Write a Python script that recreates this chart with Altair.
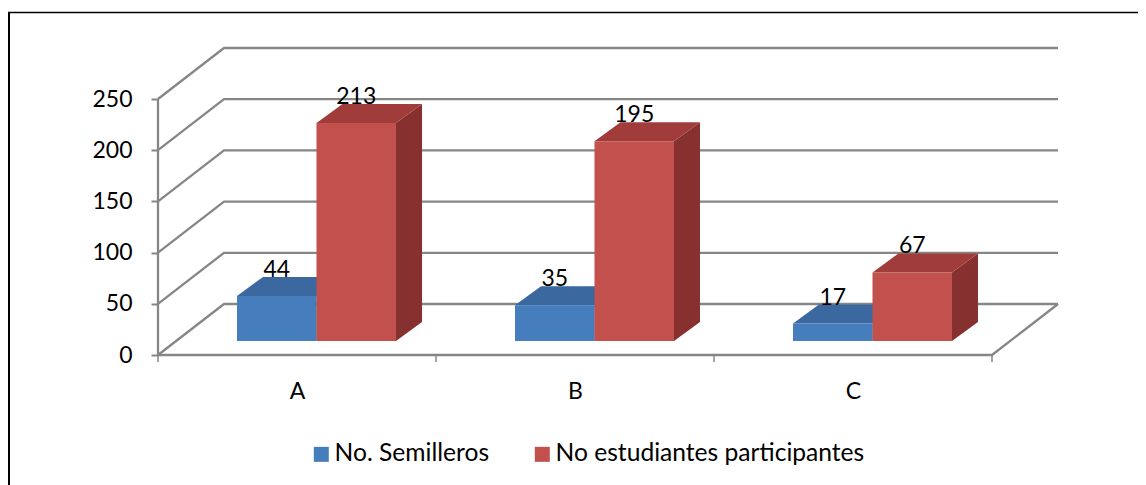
import altair as alt
import pandas as pd

categories = ["A", "B", "C"]
semilleros = [44, 35, 17]
estudiantes = [213, 195, 67]
y_ticks = [0, 50, 100, 150, 200, 250]
series_names = ["No. Semilleros", "No estudiantes participantes"]

GRID = "#868686"
FONT = "Lato"
FS = 23
W, H = 1130, 473
PX_X, PX_Y = 278.0, 1.024          # pixels per category / per value unit
X_MIN, X_MAX = (8 - 158) / PX_X, (1138 - 158) / PX_X
Y_MIN, Y_MAX = (355 - 485) / PX_Y, (355 - 12) / PX_Y
WALL_DX, WALL_DY = 66 / PX_X, 51 / PX_Y   # depth of the box
BAR_DX, BAR_DY = 26 / PX_X, 19 / PX_Y     # depth of each bar
BASE = 14 / PX_Y
GAP, BW = 79 / PX_X, 79.5 / PX_X

xs = alt.Scale(domain=[X_MIN, X_MAX], nice=False, zero=False)
ys = alt.Scale(domain=[Y_MIN, Y_MAX], nice=False, zero=False)

x_axis = alt.Axis(values=[0.5, 1.5, 2.5], labelExpr="['A','B','C'][floor(datum.value)]", ticks=False, domain=False,
                  grid=False, orient="bottom", offset=-130, labelPadding=25, labelFont=FONT, labelFontSize=FS,
                  labelColor="#000", labelAngle=0, title=None)
y_axis = alt.Axis(values=y_ticks, domain=False, grid=False, orient="left", offset=-150, tickColor=GRID,
                  tickSize=7, tickWidth=2, labelPadding=19, labelFont=FONT, labelFontSize=FS, labelColor="#000",
                  title=None)


def X(f="x"):
    return alt.X(f, type="quantitative", scale=xs, axis=x_axis)


def Y(f="y"):
    return alt.Y(f, type="quantitative", scale=ys, axis=y_axis, stack=None)


# --- box (walls, floor) ---
grid = []
gid = 0
for v in y_ticks:
    grid += [dict(g=gid, o=0, x=0, y=v), dict(g=gid, o=1, x=WALL_DX, y=v + WALL_DY),
             dict(g=gid, o=2, x=3 + WALL_DX, y=v + WALL_DY)]
    gid += 1
grid += [dict(g=gid, o=0, x=0, y=250), dict(g=gid, o=1, x=0, y=0), dict(g=gid, o=2, x=3, y=0),
         dict(g=gid, o=3, x=3 + WALL_DX, y=WALL_DY)]
grid_df = pd.DataFrame(grid)

# --- bars ---
fronts, tops, sides, labels = [], [], [], []
for si, (name, vals) in enumerate(zip(series_names, [semilleros, estudiantes])):
    for i, v in enumerate(vals):
        x0 = i + GAP + si * BW
        x1 = x0 + BW
        t = BASE + v * 1.0
        k = f"{si}-{i}"
        fronts.append(dict(series=name, si=si, x=x0, x2=x1, y=BASE, y2=t))
        tops += [dict(k=k, si=si, y=t, x=x0, x2=x1), dict(k=k, si=si, y=t + BAR_DY, x=x0 + BAR_DX, x2=x1 + BAR_DX)]
        sides += [dict(k=k, si=si, x=x1, y=BASE, y2=t), dict(k=k, si=si, x=x1 + BAR_DX, y=BASE + BAR_DY, y2=t + BAR_DY)]
        labels.append(dict(si=si, x=(x0 + x1) / 2, y=t + BAR_DY, t=str(v)))
fronts, tops, sides, labels = map(pd.DataFrame, (fronts, tops, sides, labels))
tick_df = pd.DataFrame({"x": [0, 1, 2, 3]})

base_layer = alt.Chart(grid_df).mark_line(color=GRID, strokeWidth=2.3, interpolate="linear").encode(
    x=X(), y=Y(), detail="g:N", order="o:Q",
)

x_ticks = alt.Chart(tick_df).mark_rule(color=GRID, strokeWidth=1.5).encode(
    x=X(), y=alt.value(H - 130), y2=alt.value(H - 123)
)

frame_l = alt.Chart(pd.DataFrame({"a": [0]})).mark_rule(color="#000", strokeWidth=2).encode(
    x=alt.value(1), y=alt.value(0), y2=alt.value(H)
)
frame_t = alt.Chart(pd.DataFrame({"a": [0]})).mark_rule(color="#000", strokeWidth=1.5).encode(
    y=alt.value(0.5), x=alt.value(0), x2=alt.value(W)
)

color_scale = alt.Scale(domain=series_names, range=["#467DBD", "#C2504C"])
legend = alt.Legend(orient="none", legendX=301, legendY=430, direction="horizontal", title=None, columns=2,
                    symbolType="square", symbolSize=225, symbolStrokeWidth=0, symbolOpacity=1, labelLimit=500,
                    labelFont=FONT, labelFontSize=24.6, labelColor="#000", columnPadding=40, labelOffset=1)


def bar_layers(si, top_c, side_c):
    return [
        alt.Chart(sides[sides.si == si]).mark_area(orient="vertical", color=side_c, interpolate="linear").encode(
            x=X(), y=Y(), y2="y2:Q", detail="k:N"),
        alt.Chart(tops[tops.si == si]).mark_area(orient="horizontal", color=top_c, interpolate="linear").encode(
            y=Y(), x=X(), x2="x2:Q", detail="k:N"),
        alt.Chart(fronts[fronts.si == si]).mark_rect().encode(
            x=X(), x2="x2:Q", y=Y(), y2="y2:Q",
            color=alt.Color("series:N", scale=color_scale, legend=legend)),
    ]


text = alt.Chart(labels).mark_text(font=FONT, fontSize=FS, color="#000", baseline="alphabetic").encode(
    x=X(), y=Y(), text="t:N"
)

chart = alt.layer(
    frame_l, frame_t, base_layer, x_ticks,
    *bar_layers(0, "#3A689F", "#33598A"),
    *bar_layers(1, "#A03D3B", "#86302F"),
    text,
).properties(
    width=W, height=H, padding={"left": 0, "top": 4, "right": 0, "bottom": 0}, background="white",
    autosize=alt.AutoSizeParams(type="none"),
).configure_view(stroke=None)

chart.save("out.html", embed_options={"renderer": "svg", "actions": False})
